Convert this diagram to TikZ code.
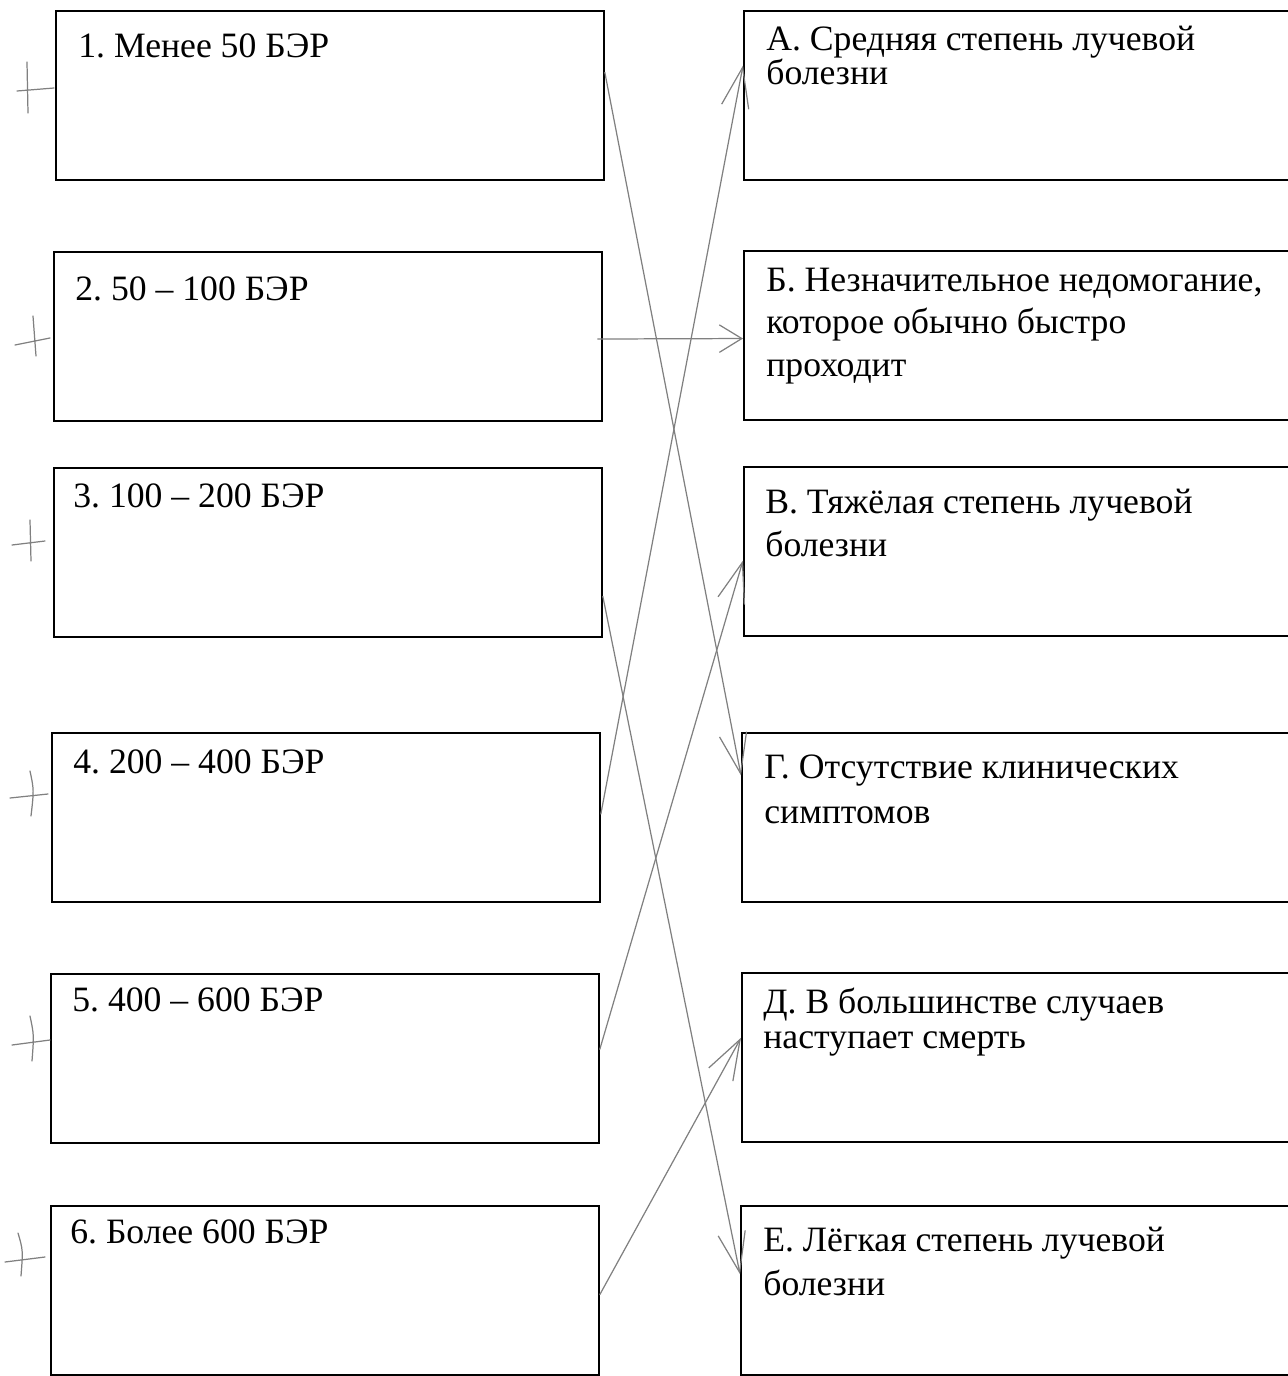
\documentclass[tikz,border=0pt]{standalone}
\usepackage{fontspec}
\setmainfont{Liberation Serif}
\frenchspacing
\usetikzlibrary{arrows.meta,calc}

\tikzset{
  lbox/.style={draw, line width=1.1pt, minimum width=10.96cm, minimum height=3.38cm, inner sep=0pt, anchor=north west},
  rbox/.style={draw, line width=1.1pt, minimum width=11.6cm, minimum height=3.38cm, inner sep=0pt, anchor=north west},
  txt/.style={anchor=base west, align=left, inner sep=0pt, font=\fontsize{20.3}{#1}\selectfont},
  txt/.default=24,
  pencil/.style={draw=black!50, line width=0.7pt, line cap=round},
  link/.style={pencil, -{Straight Barb[length=#1,width=0.55cm]}},
  link/.default=0.8cm,
}

\begin{document}
\begin{tikzpicture}[x=0.02cm, y=-0.02cm]
    \useasboundingbox (0,0) rectangle (1288,1376);
    \clip (0,0) rectangle (1288,1376);

    % doses (left column)
    \node[lbox] (n1) at (55,10) {};
    \node[txt] (t1) at (78,57) {1. Менее 50 БЭР};

    \node[lbox] (n2) at (53,251) {};
    \node[txt] (t2) at (75,300) {2. 50 – 100 БЭР};

    \node[lbox] (n3) at (53,467) {};
    \node[txt] (t3) at (73,507) {3. 100 – 200 БЭР};

    \node[lbox] (n4) at (51,732) {};
    \node[txt] (t4) at (73,773) {4. 200 – 400 БЭР};

    \node[lbox] (n5) at (50,973) {};
    \node[txt] (t5) at (72,1011) {5. 400 – 600 БЭР};

    \node[lbox] (n6) at (50,1205) {};
    \node[txt] (t6) at (70,1243) {6. Более 600 БЭР};

    % effects (right column), placed by the last line
    \node[rbox] (rA) at (743,10) {};
    \node[txt=19.3] (tA) at (766,84) {А. Средняя степень лучевой\\болезни};

    \node[rbox] (rB) at (743,250) {};
    \node[txt=24] (tB) at (766,376) {Б. Незначительное недомогание,\\которое обычно быстро\\проходит};

    \node[rbox] (rV) at (743,466) {};
    \node[txt=24] (tV) at (765,556) {В. Тяжёлая степень лучевой\\болезни};

    \node[rbox] (rG) at (741,732) {};
    \node[txt=25.2] (tG) at (764,823) {Г. Отсутствие клинических\\симптомов};

    \node[rbox] (rD) at (741,972) {};
    \node[txt=19.8] (tD) at (763,1048) {Д. В большинстве случаев\\наступает смерть};

    \node[rbox] (rE) at (740,1205) {};
    \node[txt=24.5] (tE) at (763,1295) {Е. Лёгкая степень лучевой\\болезни};

    % answers drawn in pencil
    \draw[link] ($(n1.north east)!.365!(n1.south east)$) -- ($(rG.north west)!.254!(rG.south west)$);
    \draw[link=0.45cm] ($(n2.north east)!.515!(n2.south east)+(-5,0)$) -- ($(rB.north west)!.518!(rB.south west)$);
    \draw[link] ($(n3.north east)!.757!(n3.south east)$) -- ($(rE.north west)!.405!(rE.south west)$);
    \draw[link] ($(n4.north east)!.48!(n4.south east)$) -- ($(rA.north west)!.325!(rA.south west)$);
    \draw[link] ($(n5.north east)!.446!(n5.south east)$) -- ($(rV.north west)!.553!(rV.south west)$);
    \draw[link] ($(n6.north east)!.524!(n6.south east)$) -- ($(rD.north west)!.385!(rD.south west)$);

    % check marks on the left
    \draw[pencil] (17,91) -- (54,88) (27,62) -- (28,113);
    \draw[pencil] (15,345) -- (50,338) (33,316) -- (36,356);
    \draw[pencil] (12,545) -- (45,541) (30,520) -- (31,561);
    \draw[pencil] (10,798) -- (48,794) (30,771) .. controls (34,790) .. (31,816);
    \draw[pencil] (12,1045) -- (50,1040) (30,1016) .. controls (34,1035) .. (32,1061);
    \draw[pencil] (5,1262) -- (45,1257) (18,1233) .. controls (23,1250) .. (21,1276);
\end{tikzpicture}
\end{document}
